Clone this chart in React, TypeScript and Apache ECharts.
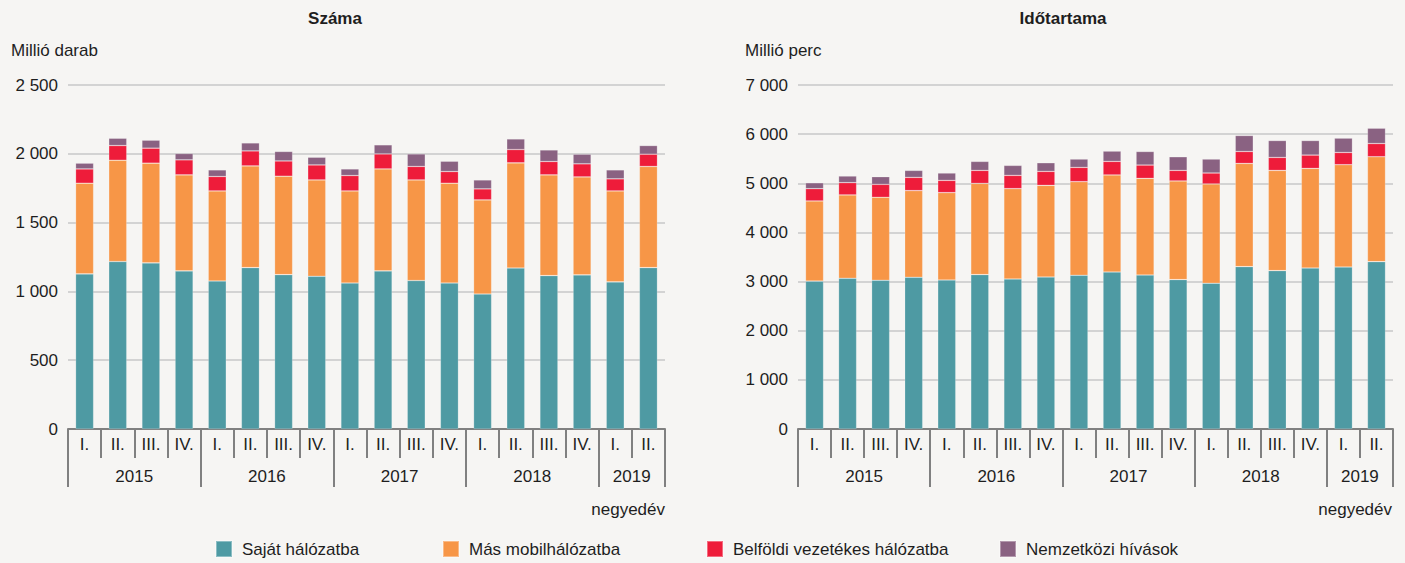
import React, { useEffect, useRef } from "react";
import * as echarts from "echarts";

const quarters = ["I.", "II.", "III.", "IV.", "I.", "II.", "III.", "IV.", "I.", "II.", "III.", "IV.", "I.", "II.", "III.", "IV.", "I.", "II."];
const years = ["2015", "2015", "2015", "2015", "2016", "2016", "2016", "2016", "2017", "2017", "2017", "2017", "2018", "2018", "2018", "2018", "2019", "2019"];
const yearLabelIdx = [1, 5, 9, 13, 16];
const yearTickIdx = [0, 4, 8, 12, 16];

const seriesNames = ["Saját hálózatba", "Más mobilhálózatba", "Belföldi vezetékes hálózatba", "Nemzetközi hívások"];
const seriesColors = ["#4e9aa3", "#f79647", "#ee1c3a", "#8a6282"];

// Száma (millió darab)
const countOwn = [1127, 1217, 1207, 1149, 1076, 1173, 1122, 1110, 1061, 1149, 1079, 1061, 981, 1170, 1115, 1120, 1069, 1173];
const countMobile = [659, 736, 725, 698, 654, 739, 715, 700, 669, 741, 731, 725, 684, 764, 732, 712, 661, 735];
const countFixed = [104, 107, 109, 109, 105, 109, 111, 109, 112, 109, 98, 85, 80, 97, 97, 95, 88, 89];
const countIntl = [42, 53, 58, 46, 48, 58, 69, 56, 48, 66, 91, 75, 65, 77, 84, 70, 65, 63];

// Időtartama (millió perc)
const durOwn = [3010, 3067, 3026, 3087, 3032, 3142, 3053, 3093, 3128, 3195, 3134, 3040, 2966, 3304, 3223, 3276, 3296, 3405];
const durMobile = [1630, 1696, 1689, 1764, 1778, 1856, 1838, 1865, 1905, 1974, 1966, 2007, 2020, 2100, 2039, 2027, 2082, 2135];
const durFixed = [250, 250, 263, 269, 249, 264, 270, 284, 290, 276, 271, 215, 223, 243, 264, 271, 249, 269];
const durIntl = [120, 135, 156, 142, 150, 183, 203, 176, 170, 210, 276, 278, 284, 325, 344, 296, 292, 312];

const FONT = "'Liberation Sans', Arial, sans-serif";
const FS = 17;
const TEXT = "#1e1e1e";
const AXIS = "#808080";
const BG = "#f6f5f3";

const fmt = (v: number) => {
  const s = String(Math.round(v));
  return s.replace(/\B(?=(\d{3})+(?!\d))/g, " ");
};

export default function App() {
  const ref = useRef<HTMLDivElement>(null);
  useEffect(() => {
    document.body.style.margin = "0";
    document.body.style.background = BG;
    if (!ref.current) return;
    const chart = echarts.init(ref.current, undefined, { renderer: "svg" });

    const grids = [
      { left: 68, top: 85, width: 597, height: 344 },
      { left: 798, top: 85, width: 595, height: 344 },
    ];

    const xAxes: any[] = [];
    const yAxes: any[] = [];
    [0, 1].forEach((g) => {
      xAxes.push({
        type: "category",
        gridIndex: g,
        data: quarters,
        boundaryGap: true,
        axisLine: { show: true, lineStyle: { color: AXIS, width: 2 } },
        axisTick: { show: true, interval: 0, length: 29, lineStyle: { color: AXIS, width: 2 } },
        axisLabel: { interval: 0, margin: 7, color: TEXT, fontFamily: FONT, fontSize: FS },
        splitLine: { show: false },
      });
      xAxes.push({
        type: "category",
        gridIndex: g,
        data: years,
        position: "bottom",
        boundaryGap: true,
        axisLine: { show: false },
        axisTick: {
          show: true,
          length: 58,
          interval: (i: number) => yearTickIdx.includes(i),
          lineStyle: { color: AXIS, width: 2 },
        },
        axisLabel: {
          interval: (i: number) => yearLabelIdx.includes(i),
          margin: 39,
          formatter: (v: string) => `{y|${v}}`,
          rich: { y: { padding: [0, 0, 0, 33], color: TEXT, fontFamily: FONT, fontSize: FS } },
        },
        splitLine: { show: false },
      });
      yAxes.push({
        type: "value",
        gridIndex: g,
        min: 0,
        max: g === 0 ? 2500 : 7000,
        interval: g === 0 ? 500 : 1000,
        axisLine: { show: false },
        axisTick: { show: false },
        axisLabel: { margin: 10, color: TEXT, fontFamily: FONT, fontSize: FS, formatter: fmt },
        splitLine: { lineStyle: { color: "#d3d3d3", width: 2 } },
      });
    });

    const leftData = [countOwn, countMobile, countFixed, countIntl];
    const rightData = [durOwn, durMobile, durFixed, durIntl];
    const series: any[] = [];
    [leftData, rightData].forEach((set, g) => {
      set.forEach((arr, i) => {
        series.push({
          type: "bar",
          name: seriesNames[i],
          stack: "s" + g,
          xAxisIndex: g * 2,
          yAxisIndex: g,
          barWidth: 18,
          data: arr,
          itemStyle: { color: seriesColors[i], borderColor: "rgba(255,255,255,0.35)", borderWidth: 0.6 },
        });
      });
    });

    const legendLefts = [215, 442, 706, 999];
    const legends = seriesNames.map((n, i) => ({
      data: [n],
      left: legendLefts[i],
      top: 540,
      padding: 0,
      itemWidth: 16,
      itemHeight: 16,
      itemGap: 10,
      icon: "rect",
      textStyle: { color: TEXT, fontFamily: FONT, fontSize: FS, padding: [0, 0, 0, 5] },
    }));

    const textStyle = (extra: any) => ({ fill: TEXT, fontFamily: FONT, fontSize: FS, ...extra });

    chart.setOption({
      animation: false,
      backgroundColor: BG,
      grid: grids,
      xAxis: xAxes,
      yAxis: yAxes,
      legend: legends,
      series,
      graphic: [
        { type: "text", x: 335, y: 10, style: textStyle({ text: "Száma", fontWeight: "bold", textAlign: "center" }) },
        { type: "text", x: 1063, y: 10, style: textStyle({ text: "Időtartama", fontWeight: "bold", textAlign: "center" }) },
        { type: "text", x: 11, y: 42, style: textStyle({ text: "Millió darab" }) },
        { type: "text", x: 745, y: 42, style: textStyle({ text: "Millió perc" }) },
        { type: "text", x: 665, y: 501, style: textStyle({ text: "negyedév", textAlign: "right" }) },
        { type: "text", x: 1392, y: 501, style: textStyle({ text: "negyedév", textAlign: "right" }) },
      ],
    });
    return () => chart.dispose();
  }, []);
  return <div ref={ref} style={{ width: 1405, height: 563 }} />;
}
